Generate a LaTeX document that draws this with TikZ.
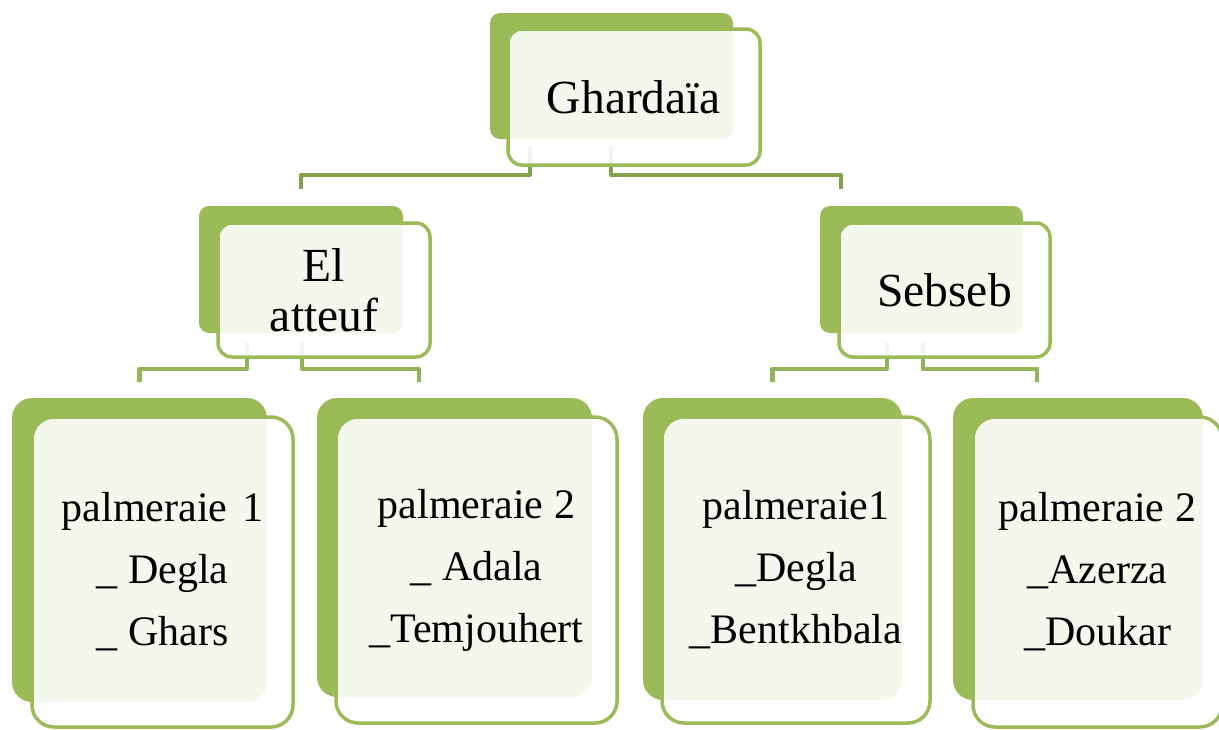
\documentclass[tikz,border=0pt]{standalone}
\usepackage{fontspec}
\setmainfont{Liberation Serif}
\usetikzlibrary{positioning}
\pgfdeclarelayer{bg}
\pgfsetlayers{bg,main}
\definecolor{olive}{HTML}{9BBB59}
\definecolor{oliveline}{HTML}{83A04C}
\definecolor{oliveline2}{HTML}{93B356}
\tikzset{
  backbox/.style={rectangle, fill=olive, draw=none, rounded corners=10pt, inner sep=0pt},
  bigback/.style={backbox, rounded corners=20pt},
  frontbox/.style={rectangle, draw=olive, line width=3.5pt, fill=white, fill opacity=0.89, text opacity=1, rounded corners=14pt, inner sep=0pt, align=center},
  bigfront/.style={frontbox, rounded corners=22pt, font=\fontsize{42}{62}\selectfont},
  topfont/.style={font=\fontsize{47.5}{50}\selectfont},
  conn/.style={draw=oliveline, line width=4.5pt, line join=round},
  conntwo/.style={conn, draw=oliveline2},
}
\begin{document}
\begin{tikzpicture}[x=1pt,y=-1pt]
\useasboundingbox (0,0) rectangle (1219,729);
\clip (0,0) rectangle (1219,729);
\begin{pgfonlayer}{bg}
  \node[backbox, minimum width=243pt, minimum height=126pt] (gb) at (611.5,76) {};
  \node[backbox, minimum width=204pt, minimum height=127pt] (eb) at (301,269.5) {};
  \node[backbox, minimum width=203pt, minimum height=127pt] (sb) at (921.5,269.5) {};
  \node[bigback, minimum width=255pt, minimum height=304pt] (p1b) at (139.5,550) {};
  \node[bigback, minimum width=275pt, minimum height=299pt] (p2b) at (454.5,547.5) {};
  \node[bigback, minimum width=259pt, minimum height=302pt] (p3b) at (772.5,549) {};
  \node[bigback, minimum width=250pt, minimum height=302pt] (p4b) at (1078,549) {};
\end{pgfonlayer}
\node[frontbox, topfont, minimum width=252pt, minimum height=136pt] (g) at (634,97) {Ghardaïa};
\node[frontbox, topfont, minimum width=212pt, minimum height=134pt] (ef) at (324,290) {El\\atteuf};
\node[frontbox, topfont, minimum width=211pt, minimum height=134pt] (sf) at (944.5,290) {Sebseb};
\node[bigfront, minimum width=261pt, minimum height=310pt] (p1) at (162.5,572) {palmeraie\hspace{15pt}1\\\_ Degla\\\_ Ghars};
\node[bigfront, minimum width=281pt, minimum height=306pt] (p2) at (476.5,570) {palmeraie 2\\\_ Adala\\\_Temjouhert};
\node[bigfront, minimum width=268pt, minimum height=306pt] (p3) at (796,570) {palmeraie1\\\_Degla\\\_Bentkhbala};
\node[bigfront, minimum width=249pt, minimum height=310pt] (p4) at (1097.5,572) {\rule{0pt}{12pt}palmeraie 2\\\_Azerza\\\_Doukar};
\begin{pgfonlayer}{bg}
  \draw[conn] ([xshift=-104pt,yshift=20pt]g.south) -- ++(0,28) -| ([yshift=17pt]eb.north);
  \draw[conn] ([xshift=-23pt,yshift=20pt]g.south) -- ++(0,28) -| ([xshift=-80.5pt,yshift=17pt]sb.north);
  \draw[conntwo] ([xshift=-77pt,yshift=17pt]ef.south) -- ++(0,27) -| ([yshift=16pt]p1b.north);
  \draw[conntwo] ([xshift=-22pt,yshift=17pt]ef.south) -- ++(0,27) -| ([xshift=-35.5pt,yshift=16pt]p2b.north);
  \draw[conntwo] ([xshift=-57.5pt,yshift=17pt]sf.south) -- ++(0,27) -| ([yshift=16pt]p3b.north);
  \draw[conntwo] ([xshift=-21.5pt,yshift=17pt]sf.south) -- ++(0,27) -| ([xshift=-41pt,yshift=16pt]p4b.north);
\end{pgfonlayer}
\end{tikzpicture}
\end{document}
